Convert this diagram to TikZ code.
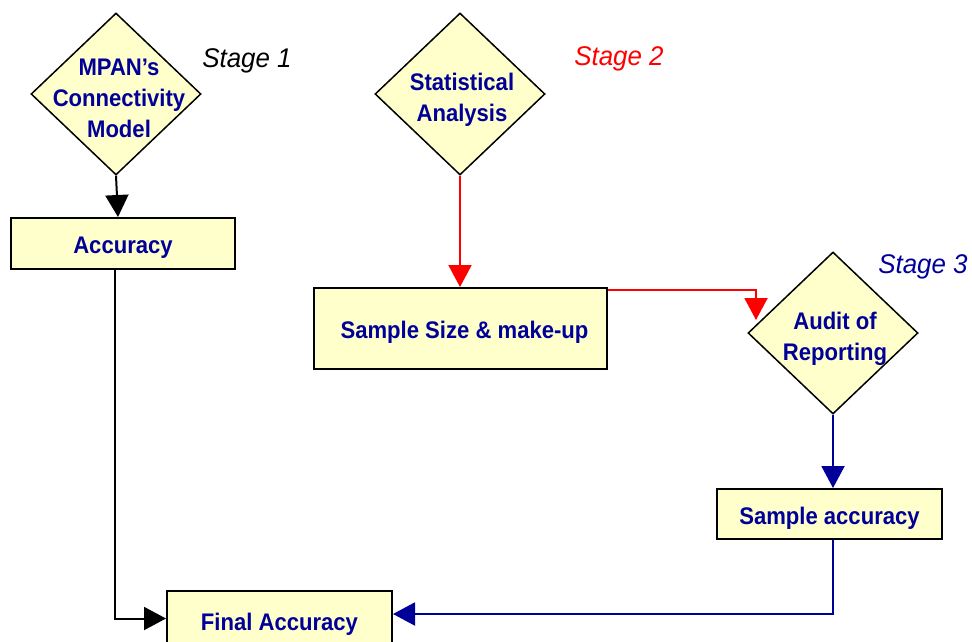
\documentclass[tikz,border=0pt]{standalone}
\usepackage{fontspec}
\setmainfont{Liberation Sans}
\newfontfamily\boxfont[FakeStretch=0.92]{Liberation Sans}
\newfontfamily\stagefont[FakeStretch=0.96]{Liberation Sans}
\usetikzlibrary{shapes.geometric,arrows.meta}
\definecolor{boxfill}{HTML}{FFFFCC}
\definecolor{navy}{HTML}{000099}
\definecolor{redline}{HTML}{FF0000}
\begin{document}
\begin{tikzpicture}[x=1pt,y=-1pt,
  box/.style={draw=black, line width=2pt, fill=boxfill, inner sep=0pt,
    text=navy, font=\boxfont\bfseries\fontsize{24}{31}\selectfont,
    text height=20pt, text depth=0pt},
  dia/.style={diamond, draw=black, line width=1.5pt, fill=boxfill, inner sep=0pt,
    minimum width=170pt, minimum height=162pt},
  dtext/.style={align=center, text=navy, inner sep=0pt,
    font=\boxfont\bfseries\fontsize{24}{31}\selectfont},
  stage/.style={font=\stagefont\itshape\fontsize{27}{30}\selectfont, inner sep=0pt},
  conn/.style={line width=2pt, -{Triangle[width=23pt,length=22pt]}}
]
\useasboundingbox (0,0) rectangle (972,641);

% diamonds
\node[dia] (d1) at (116,94) {};
\node[dtext, xshift=3pt, yshift=-4pt] (t1) at (d1) {MPAN’s\\Connectivity\\Model};
\node[dia] (d2) at (460,94) {};
\node[dtext, xshift=2pt, yshift=-6pt] (t2) at (d2) {Statistical\\Analysis};
\node[dia] (d3) at (833,333) {};
\node[dtext, xshift=2pt, yshift=-6pt] (t3) at (d3) {Audit of\\Reporting};

% boxes
\node[box, minimum width=224pt, minimum height=51pt] (acc) at (123,243.5) {Accuracy};
\node[box, minimum width=293pt, minimum height=81pt] (ss) at (460.5,328.5) {\hspace*{8pt}Sample Size \& make-up};
\node[box, minimum width=225pt, minimum height=50pt] (sacc) at (829.5,514) {Sample accuracy};
\node[box, minimum width=225pt, minimum height=59pt] (fin) at (279.5,620.5) {Final Accuracy};

% stage labels
\node[stage, text=black] (s1) at (247,61) {Stage 1};
\node[stage, text=redline] (s2) at (619,59) {Stage 2};
\node[stage, text=navy] (s3) at (923,267) {Stage 3};

% connectors
\coordinate (rtip) at (756,320);
\draw[conn, black] (d1.south) -- ([xshift=-5pt]acc.north);
\draw[conn, black] ([xshift=-8pt]acc.south) |- ([yshift=2pt]fin.west);
\draw[conn, redline] (d2.south) -- (d2.south |- ss.north);
\draw[conn, redline] ([yshift=-2.5pt]ss.north east) -| (rtip);
\draw[conn, navy] (d3.south) -- (d3.south |- sacc.north);
\draw[conn, navy] (d3.south |- sacc.south) |- ([yshift=6.5pt]fin.east);
\end{tikzpicture}
\end{document}
